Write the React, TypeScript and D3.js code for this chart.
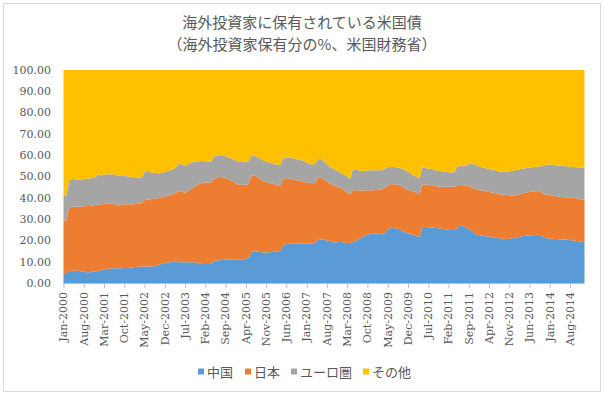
import React from 'react';
import * as d3 from 'd3';

// Share of foreign-held US Treasuries (%), monthly Jan 2000 - Jan 2015
const seriesNames = ['中国', '日本', 'ユーロ圏', 'その他'];
const seriesColors = ['#5b9bd5', '#ed7d31', '#a5a5a5', '#ffc000'];

const china = [
    4.0, 4.5, 5.6, 5.7, 5.8, 5.7, 5.5, 5.3, 5.0, 5.0,
    5.3, 5.5, 5.6, 6.0, 6.3, 6.6, 6.8, 6.9, 6.9, 6.9,
    6.9, 7.0, 7.0, 7.2, 7.4, 7.5, 7.6, 7.7, 7.7, 7.7,
    7.8, 7.9, 8.1, 8.6, 9.1, 9.4, 9.6, 9.8, 10.0, 10.0,
    9.8, 9.7, 9.7, 9.7, 9.7, 9.7, 9.5, 9.2, 8.9, 8.9,
    8.9, 8.9, 10.5, 10.6, 10.7, 10.8, 10.9, 11.0, 11.2, 11.2,
    11.0, 10.8, 11.0, 11.5, 11.8, 14.7, 14.7, 14.7, 14.5, 14.3,
    14.3, 14.4, 14.6, 14.7, 14.8, 15.0, 17.8, 18.3, 18.4, 18.4,
    18.4, 18.4, 18.5, 18.5, 18.6, 18.6, 18.7, 18.8, 20.6, 20.4,
    20.4, 20.0, 19.7, 19.2, 19.0, 19.3, 19.2, 19.0, 18.7, 18.8,
    19.2, 19.7, 20.5, 21.4, 22.2, 22.6, 22.9, 23.1, 23.2, 23.0,
    22.8, 23.5, 25.0, 26.0, 25.8, 25.6, 25.2, 24.6, 23.8, 23.4,
    23.0, 22.5, 22.0, 21.6, 26.4, 26.3, 26.2, 26.1, 25.9, 25.8,
    25.6, 25.4, 25.2, 25.0, 24.9, 24.9, 25.5, 27.5, 26.6, 26.0,
    25.5, 24.5, 23.0, 22.7, 22.4, 22.2, 22.0, 21.8, 21.5, 21.3,
    21.1, 20.9, 20.5, 20.6, 20.8, 20.9, 21.2, 21.5, 21.8, 22.1,
    22.2, 22.3, 22.4, 22.5, 22.6, 22.4, 21.2, 21.0, 20.9, 20.8,
    20.7, 20.5, 20.5, 20.4, 20.3, 20.2, 20.0, 19.8, 19.6, 19.4, 19.1,
];

const japan = [
    25.1, 25.0, 30.2, 30.1, 30.0, 30.1, 30.4, 30.7, 31.1, 31.2,
    31.1, 31.1, 31.2, 31.0, 30.8, 30.6, 30.4, 30.3, 30.1, 29.2,
    29.8, 30.0, 30.0, 29.8, 29.6, 29.6, 29.6, 29.7, 31.1, 31.5,
    31.5, 31.5, 31.5, 31.4, 31.2, 31.2, 31.4, 31.5, 31.8, 32.5,
    33.4, 33.1, 32.7, 33.5, 34.3, 35.1, 36.3, 37.4, 38.2, 38.3,
    38.3, 38.3, 38.5, 38.8, 39.2, 38.9, 38.5, 37.8, 36.8, 36.0,
    35.4, 35.2, 35.1, 34.8, 34.7, 35.9, 35.6, 35.2, 34.5, 33.5,
    33.1, 32.6, 32.1, 31.6, 31.0, 30.9, 31.0, 31.0, 30.6, 30.3,
    30.0, 29.8, 29.4, 29.1, 28.6, 28.3, 28.1, 28.3, 29.2, 28.9,
    28.2, 27.8, 27.0, 26.8, 26.6, 25.7, 25.3, 24.5, 23.8, 22.7,
    24.4, 23.9, 23.0, 22.0, 21.2, 20.9, 20.6, 20.5, 20.5, 20.8,
    21.2, 21.3, 20.8, 20.5, 20.6, 20.7, 20.8, 20.6, 20.6, 20.4,
    20.3, 20.5, 20.4, 20.0, 19.9, 19.9, 19.9, 19.8, 19.7, 19.6,
    19.6, 19.8, 20.0, 20.2, 20.3, 20.3, 20.1, 18.8, 19.2, 19.6,
    19.9, 20.5, 21.2, 21.2, 21.2, 21.2, 21.1, 21.0, 21.0, 21.0,
    20.9, 20.6, 21.0, 20.8, 20.4, 20.1, 19.9, 19.9, 20.0, 20.1,
    20.3, 20.4, 20.5, 20.6, 20.6, 20.2, 20.5, 20.5, 20.4, 20.2,
    20.1, 20.0, 19.9, 19.9, 19.9, 19.9, 20.0, 20.0, 19.9, 19.8, 19.8,
];

const euro = [
    12.2, 11.5, 12.5, 13.0, 12.9, 12.8, 12.7, 12.7, 12.8, 12.9,
    12.9, 13.0, 14.3, 13.5, 13.7, 13.8, 13.8, 13.9, 13.8, 14.2,
    13.5, 13.2, 13.1, 12.9, 12.7, 12.5, 12.2, 11.9, 13.2, 13.6,
    12.7, 12.4, 12.0, 11.5, 11.5, 11.7, 11.6, 11.7, 11.7, 12.0,
    13.0, 12.7, 12.7, 12.6, 12.4, 12.2, 11.3, 10.6, 10.2, 10.0,
    9.9, 9.8, 10.4, 10.4, 10.1, 10.4, 10.1, 10.1, 10.4, 10.6,
    10.9, 10.8, 10.7, 10.7, 10.7, 9.4, 9.3, 9.3, 9.5, 9.8,
    9.6, 9.6, 9.5, 9.5, 9.6, 9.7, 9.9, 9.7, 9.8, 9.9,
    9.9, 9.8, 9.9, 9.7, 9.4, 9.0, 8.8, 8.8, 8.5, 8.9,
    8.6, 8.2, 7.8, 7.8, 7.4, 7.3, 7.1, 7.3, 7.5, 7.3,
    9.7, 9.8, 9.3, 9.2, 9.3, 9.3, 9.4, 9.3, 9.2, 9.1,
    9.0, 9.0, 8.6, 8.1, 8.1, 8.0, 8.1, 8.4, 8.6, 8.4,
    8.0, 7.5, 7.5, 7.6, 8.0, 7.8, 7.6, 7.6, 7.5, 7.4,
    7.4, 7.2, 7.0, 6.8, 6.7, 6.8, 8.9, 9.0, 9.0, 9.6,
    10.4, 11.2, 11.4, 11.1, 11.0, 10.8, 10.8, 10.8, 10.8, 10.7,
    10.6, 10.7, 10.6, 10.9, 11.3, 11.6, 11.8, 11.8, 11.7, 11.6,
    11.5, 11.5, 11.5, 11.4, 11.4, 12.3, 13.5, 14.0, 14.4, 14.5,
    14.5, 14.6, 14.6, 14.6, 14.6, 14.5, 14.5, 14.6, 14.8, 15.0, 15.2,
];

const others = [
    58.7, 59.0, 51.7, 51.2, 51.3, 51.4, 51.4, 51.3, 51.1, 50.9,
    50.7, 50.4, 48.9, 49.5, 49.2, 49.0, 49.0, 48.9, 49.2, 49.7,
    49.8, 49.8, 49.9, 50.1, 50.3, 50.4, 50.6, 50.7, 48.0, 47.2,
    48.0, 48.2, 48.4, 48.5, 48.2, 47.7, 47.4, 47.0, 46.5, 45.5,
    43.8, 44.5, 44.9, 44.2, 43.6, 43.0, 42.9, 42.8, 42.7, 42.8,
    42.9, 43.0, 40.6, 40.2, 40.0, 39.9, 40.5, 41.1, 41.6, 42.2,
    42.7, 43.2, 43.2, 43.0, 42.8, 40.0, 40.4, 40.8, 41.5, 42.4,
    43.0, 43.4, 43.8, 44.2, 44.6, 44.4, 41.3, 41.0, 41.2, 41.4,
    41.7, 42.0, 42.2, 42.7, 43.4, 44.1, 44.4, 44.1, 41.7, 41.8,
    42.8, 44.0, 45.5, 46.2, 47.0, 47.7, 48.4, 49.2, 50.0, 51.2,
    46.7, 46.6, 47.2, 47.4, 47.3, 47.2, 47.1, 47.1, 47.1, 47.1,
    47.0, 46.2, 45.6, 45.4, 45.5, 45.7, 45.9, 46.4, 47.0, 47.8,
    48.7, 49.5, 50.1, 50.8, 45.7, 46.0, 46.3, 46.5, 46.9, 47.2,
    47.4, 47.6, 47.8, 48.0, 48.1, 48.0, 45.5, 44.7, 45.2, 44.8,
    44.2, 43.8, 44.4, 45.0, 45.4, 45.8, 46.1, 46.4, 46.7, 47.0,
    47.4, 47.8, 47.9, 47.7, 47.5, 47.4, 47.1, 46.8, 46.5, 46.2,
    46.0, 45.8, 45.6, 45.5, 45.4, 45.1, 44.8, 44.5, 44.3, 44.5,
    44.7, 44.9, 45.0, 45.1, 45.2, 45.4, 45.5, 45.6, 45.7, 45.8, 45.9,
];

const months = d3.timeMonth.range(new Date(2000, 0, 1), new Date(2015, 1, 1));
const yTicks = [0, 10, 20, 30, 40, 50, 60, 70, 80, 90, 100];
const tickEvery = 7; // one label every 7 months: Jan-2000, Aug-2000, ...

const width = 604;
const height = 396;
const margin = { top: 70, right: 19.5, bottom: 113, left: 63.5 };
const textColor = '#595959';
const serif = '"DejaVu Serif", serif';
const jp = '"Noto Sans CJK JP", sans-serif';

export default function App() {
    const rows = months.map((d, i) => ({
        i,
        date: d,
        [seriesNames[0]]: china[i],
        [seriesNames[1]]: japan[i],
        [seriesNames[2]]: euro[i],
        [seriesNames[3]]: others[i],
    }));

    const stacked = d3.stack<any>().keys(seriesNames)(rows);

    const x = d3.scaleLinear()
        .domain([0, months.length - 1])
        .range([margin.left, width - margin.right]);

    const y = d3.scaleLinear()
        .domain([0, 100])
        .range([height - margin.bottom, margin.top]);

    const area = d3.area<any>()
        .x(d => x(d.data.i))
        .y0(d => y(d[0]))
        .y1(d => y(d[1]));

    const fmt = d3.timeFormat('%b-%Y');
    const xTicks = months.map((d, i) => ({ d, i })).filter(t => t.i % tickEvery === 0);
    const baseY = y(0);

    const legendX = [198, 245, 291, 363];

    return (
        <svg width={width} height={height} style={{ position: 'absolute', left: 0, top: 0, background: '#fff' }}>
            <rect x={3.5} y={3.5} width={597} height={388} fill="#fff" stroke="#d9d9d9" />

            <text x={302} y={28} textAnchor="middle" fontFamily={jp} fontSize={15} fill={textColor}>
                海外投資家に保有されている米国債
            </text>
            <text x={302} y={50} textAnchor="middle" fontFamily={jp} fontSize={15} fill={textColor}>
                （海外投資家保有分の%、米国財務省）
            </text>

            {stacked.map((s, k) => (
                <path key={s.key} d={area(s) || ''} fill={seriesColors[k]} />
            ))}

            <line x1={x(0)} x2={x(months.length - 1)} y1={baseY + 0.5} y2={baseY + 0.5} stroke="#bfbfbf" />

            {yTicks.map(t => (
                <text key={t} x={51} y={y(t)} dy="0.35em" textAnchor="end"
                    fontFamily={serif} fontSize={11} fill={textColor}>
                    {t.toFixed(2)}
                </text>
            ))}

            {xTicks.map(t => (
                <g key={t.i} transform={`translate(${x(t.i)},${baseY})`}>
                    <line x1={0.5} x2={0.5} y1={0} y2={5} stroke="#bfbfbf" />
                    <text transform="rotate(-90)" x={-9} y={0} dy="0.35em" textAnchor="end"
                        fontFamily={serif} fontSize={11} fill={textColor}>
                        {fmt(t.d)}
                    </text>
                </g>
            ))}

            {seriesNames.map((name, k) => (
                <g key={name} transform={`translate(${legendX[k]},372)`}>
                    <rect x={0} y={-3.5} width={6} height={6} fill={seriesColors[k]} />
                    <text x={9} y={0} dy="0.35em" fontFamily={jp} fontSize={13} fill={textColor}>
                        {name}
                    </text>
                </g>
            ))}
        </svg>
    );
}
